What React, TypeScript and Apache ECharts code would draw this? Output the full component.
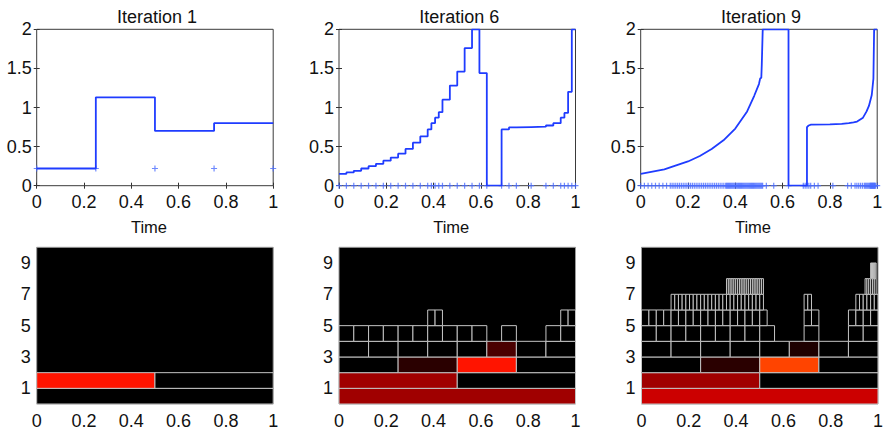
import React, { useEffect, useRef } from "react";
import * as echarts from "echarts";

// ---------- data ----------
const TITLES = ["Iteration 1", "Iteration 6", "Iteration 9"];
const AXIS_NAME = "Time";

// active wavelet cells per level, as runs [firstIndex, lastIndex]
const ITER1_RUNS = [[[0, 0]], [[0, 1]]];
const ITER6_RUNS = [
  [[0, 0]],
  [[0, 1]],
  [[0, 3]],
  [[0, 7]],
  [[0, 9], [11, 11], [14, 15]],
  [[12, 13], [30, 31]],
];
const ITER9_RUNS = [
  [[0, 0]],
  [[0, 1]],
  [[0, 3]],
  [[0, 7]],
  [[0, 8], [11, 11], [14, 15]],
  [[0, 16], [22, 23], [28, 31]],
  [[8, 32], [44, 45], [58, 63]],
  [[46, 65], [121, 126]],
  [[248, 253]],
];

// non-zero coefficient magnitudes [level, index, magnitude]
const ITER1_COEF = [[1, 0, 0.404]];
const ITER6_COEF = [
  [0, 0, 0.235],
  [1, 0, 0.235],
  [2, 1, 0.062],
  [2, 2, 0.404],
  [3, 5, 0.109],
];
const ITER9_COEF = [
  [0, 0, 0.3],
  [1, 0, 0.235],
  [2, 1, 0.062],
  [2, 2, 0.475],
  [3, 5, 0.044],
];

// step values of the reconstruction, one per leaf interval
const ITER1_STEPS = [0.22, 1.13, 0.7, 0.8];
const ITER6_STEPS = [
  0.15, 0.17, 0.19, 0.22, 0.25, 0.28, 0.32, 0.36, 0.41, 0.47, 0.55, 0.63,
  0.72, 0.8, 0.87, 0.94,
  1.1, 1.28,
  1.46, 1.76, 2.0, 1.44,
  0, 0.72, 0.745,
  0.75, 0.755,
  0.77, 0.8,
  0.87, 0.93, 1.2, 2.0,
];
// iteration 9 curve
const ITER9_X = [
  0, 0.05, 0.1, 0.15, 0.2, 0.25, 0.3, 0.35, 0.4, 0.45, 0.48, 0.5, 0.505, 0.51,
  0.512, 0.516, 0.625, 0.625, 0.703, 0.703, 0.71, 0.72, 0.8, 0.85, 0.88, 0.9,
  0.915, 0.94, 0.955, 0.965, 0.977, 0.984, 0.987, 1.0,
];
const ITER9_Y = [
  0.15, 0.18, 0.21, 0.26, 0.31, 0.38, 0.47, 0.58, 0.73, 0.95, 1.15, 1.3, 1.37,
  1.38, 1.55, 2.0, 2.0, 0, 0, 0.75, 0.77, 0.78, 0.785, 0.79, 0.8, 0.81, 0.82,
  0.87, 0.95, 1.02, 1.16, 1.37, 2.0, 2.0,
];
const MARKER_Y = [0.22, 0, 0];

const X_MIN = 0, X_MAX = 1, X_STEP = 0.2;
const Y_MIN = 0, Y_MAX = 2, Y_STEP = 0.5;
const LEVEL_MIN = 0, LEVEL_MAX = 10;

// hot colormap stops
const HOT = [
  "#000000", "#550000", "#aa0000", "#ff0000", "#ff5500",
  "#ffaa00", "#ffff00", "#ffff80", "#ffffff",
];

// ---------- helpers ----------
function isActive(runs: number[][][], l: number, i: number) {
  return l < runs.length && runs[l].some(([a, b]) => i >= a && i <= b);
}
function leafEdges(runs: number[][][]) {
  const edges = [0];
  const visit = (l: number, i: number) => {
    for (const c of [2 * i, 2 * i + 1]) {
      if (isActive(runs, l + 1, c)) visit(l + 1, c);
      else edges.push((c + 1) / Math.pow(2, l + 1));
    }
  };
  visit(0, 0);
  return edges;
}
function cellData(runs: number[][][], coef: number[][]) {
  const out: number[][] = [];
  runs.forEach((lvl, l) => {
    const n = Math.pow(2, l);
    lvl.forEach(([a, b]) => {
      for (let i = a; i <= b; i++) {
        const c = coef.find((q) => q[0] === l && q[1] === i);
        out.push([i / n, (i + 1) / n, l, c ? c[2] : 0]);
      }
    });
  });
  return out;
}
function stepLine(edges: number[], vals: number[]) {
  const pts: number[][] = [];
  vals.forEach((v, k) => {
    pts.push([edges[k], v]);
    pts.push([edges[k + 1], v]);
  });
  return pts;
}

const FONT = "'Liberation Sans', Arial, sans-serif";
const LINE_COLOR = "#1f3cff";
const PLUS = "path://M4,0h2v4h4v2h-4v4h-2v-4h-4v-2h4z";

export default function App() {
  const ref = useRef<HTMLDivElement>(null);
  useEffect(() => {
    if (!ref.current) return;
    const chart = echarts.init(ref.current, undefined, { renderer: "svg" });

    const topLefts = [36.7, 339, 640.7];
    const botLefts = [36.7, 339, 641.5];
    const W = 236.5;
    const runsAll = [ITER1_RUNS, ITER6_RUNS, ITER9_RUNS];
    const coefAll = [ITER1_COEF, ITER6_COEF, ITER9_COEF];

    const grids: any[] = [];
    const xAxes: any[] = [];
    const yAxes: any[] = [];
    const series: any[] = [];
    const titles: any[] = [];

    const lbl = { fontSize: 18, color: "#111", fontFamily: FONT };
    const tick = { show: true, inside: true, length: 3, lineStyle: { color: "#333", width: 1 } };

    for (let g = 0; g < 3; g++) {
      grids.push({
        left: topLefts[g], top: 29.3, width: W, height: 156.4,
        show: true, borderColor: "#3a3a3a", borderWidth: 1, backgroundColor: "#fff",
      });
      titles.push({
        text: TITLES[g], left: topLefts[g] + W / 2 - 3, top: 3, textAlign: "center",
        textStyle: { fontSize: 18, fontWeight: "normal", color: "#111", fontFamily: FONT },
      });
      xAxes.push({
        type: "value", gridIndex: g, min: X_MIN, max: X_MAX, interval: X_STEP,
        axisLine: { show: false }, axisTick: tick, splitLine: { show: false },
        axisLabel: { ...lbl, margin: 7, showMinLabel: true, showMaxLabel: true },
        name: AXIS_NAME, nameLocation: "middle", nameGap: 33,
        nameTextStyle: { fontSize: 16.5, color: "#111", fontFamily: FONT, padding: [0, 12, 0, 0] },
      });
      xAxes.push({
        type: "value", gridIndex: g, position: "top", min: X_MIN, max: X_MAX, interval: X_STEP,
        axisLine: { show: false }, axisTick: tick, axisLabel: { show: false }, splitLine: { show: false },
      });
      yAxes.push({
        type: "value", gridIndex: g, min: Y_MIN, max: Y_MAX, interval: Y_STEP,
        axisLine: { show: false }, axisTick: tick, splitLine: { show: false },
        axisLabel: { ...lbl, margin: 5, showMinLabel: true, showMaxLabel: true },
      });
      yAxes.push({
        type: "value", gridIndex: g, position: "right", min: Y_MIN, max: Y_MAX, interval: Y_STEP,
        axisLine: { show: false }, axisTick: tick, axisLabel: { show: false }, splitLine: { show: false },
      });
    }
    for (let g = 0; g < 3; g++) {
      grids.push({
        left: botLefts[g], top: 247.3, width: W, height: 156.7,
        show: true, borderColor: "#9a9a9a", borderWidth: 1, backgroundColor: "#000",
      });
      xAxes.push({
        type: "value", gridIndex: 3 + g, min: X_MIN, max: X_MAX, interval: X_STEP,
        axisLine: { show: false }, axisTick: { show: false }, splitLine: { show: false },
        axisLabel: { ...lbl, margin: 8, showMinLabel: true, showMaxLabel: true },
      });
      yAxes.push({
        type: "value", gridIndex: 3 + g, min: LEVEL_MIN, max: LEVEL_MAX, interval: 1,
        axisLine: { show: false }, axisTick: { show: false }, splitLine: { show: false },
        axisLabel: {
          ...lbl, margin: 6, padding: [5, 0, 0, 0],
          formatter: (v: number) => (v % 2 === 1 ? String(v) : ""),
        },
      });
    }

    // top row series
    const edgesAll = runsAll.map(leafEdges);
    const lines = [
      stepLine(edgesAll[0], ITER1_STEPS),
      stepLine(edgesAll[1], ITER6_STEPS),
      ITER9_X.map((x, k) => [x, ITER9_Y[k]]),
    ];
    for (let g = 0; g < 3; g++) {
      series.push({
        type: "line", xAxisIndex: 2 * g, yAxisIndex: 2 * g, data: lines[g],
        showSymbol: false, lineStyle: { color: LINE_COLOR, width: 1.8 }, silent: true, clip: true,
      });
      series.push({
        type: "scatter", xAxisIndex: 2 * g, yAxisIndex: 2 * g,
        data: edgesAll[g].map((x) => [x, MARKER_Y[g]]),
        symbol: PLUS, symbolSize: 6, itemStyle: { color: "#4a6cff" }, silent: true,
      });
    }
    const customIdx: number[] = [];
    for (let g = 0; g < 3; g++) {
      customIdx.push(series.length);
      series.push({
        type: "custom", xAxisIndex: 6 + g, yAxisIndex: 6 + g,
        data: cellData(runsAll[g], coefAll[g]),
        encode: { x: [0, 1], y: 2 },
        silent: true,
        renderItem: (params: any, api: any) => {
          const p0 = api.coord([api.value(0), api.value(2)]);
          const p1 = api.coord([api.value(1), api.value(2) + 1]);
          return {
            type: "rect",
            shape: { x: p0[0], y: p1[1], width: p1[0] - p0[0], height: p0[1] - p1[1] },
            style: { fill: api.visual("color"), stroke: "#c4c4c4", lineWidth: 1 },
          };
        },
      });
    }

    chart.setOption({
      animation: false,
      backgroundColor: "#fff",
      textStyle: { fontFamily: FONT },
      title: titles,
      grid: grids,
      xAxis: xAxes,
      yAxis: yAxes,
      visualMap: {
        type: "continuous", show: false, min: 0, max: 1, dimension: 3,
        seriesIndex: customIdx, inRange: { color: HOT },
      },
      series,
    });
    return () => chart.dispose();
  }, []);
  return (
    <div
      ref={ref}
      style={{ position: "absolute", left: 0, top: 0, width: 887, height: 431 }}
    />
  );
}
